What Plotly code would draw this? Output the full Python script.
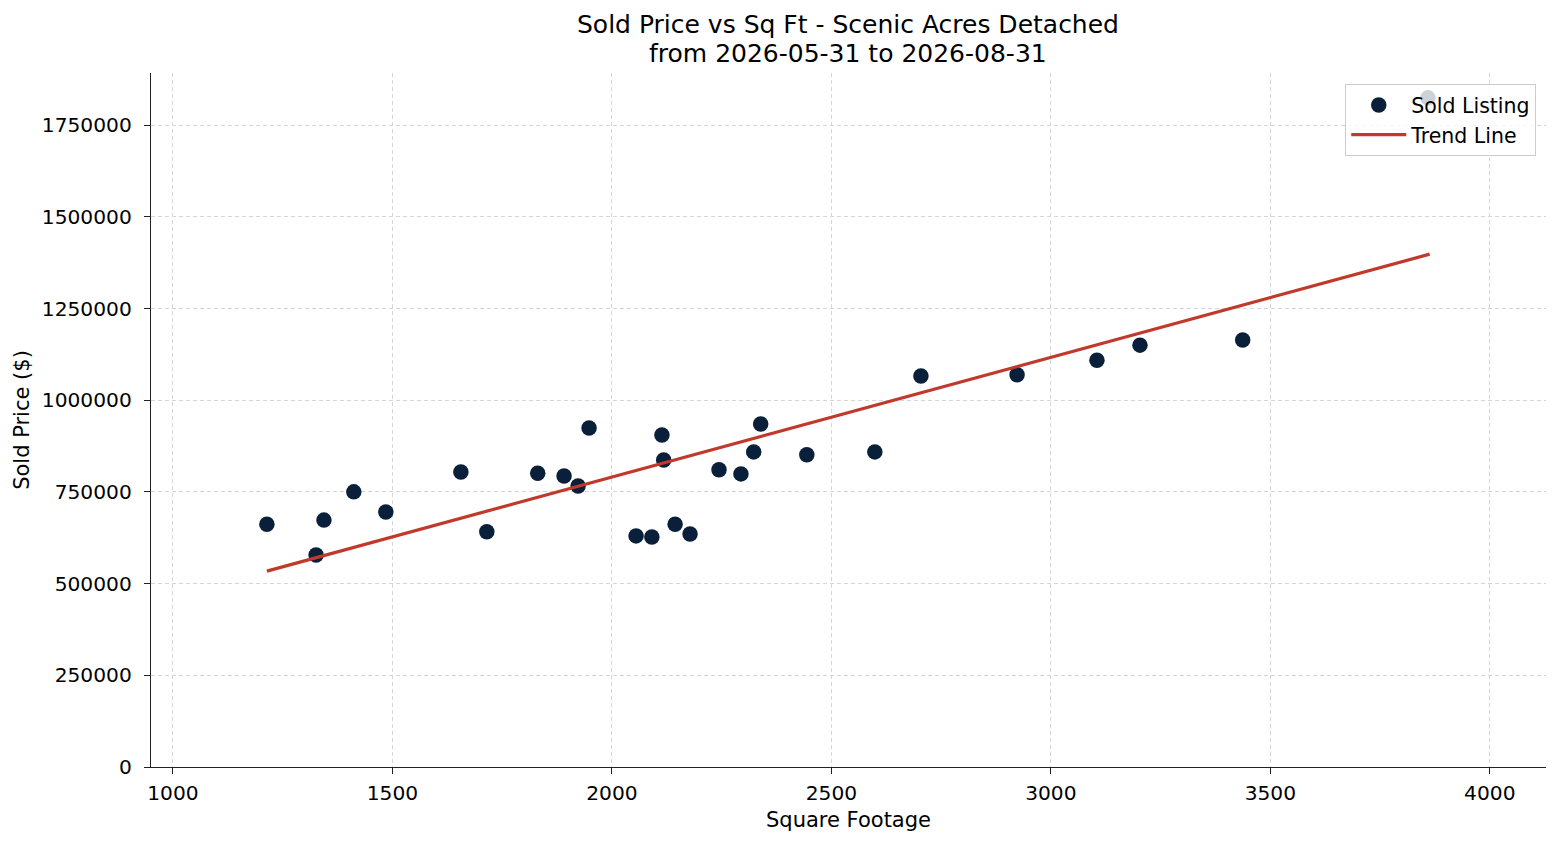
import plotly.graph_objects as go

# Data
sqft = [1214, 1326, 1344, 1412, 1485, 1656, 1715, 1831, 1891, 1923, 1948,
        2055, 2091, 2114, 2118, 2144, 2178, 2244, 2294, 2323, 2339, 2444,
        2599, 2704, 2923, 3105, 3203, 3437, 3859]
price = [662000, 578000, 673000, 750000, 695000, 804000, 641000, 801000,
         793000, 766000, 924000, 630000, 627000, 905000, 837000, 662000,
         635000, 810000, 799000, 859000, 935000, 851000, 859000, 1066000,
         1069000, 1109000, 1150000, 1164000, 1824000]
trend_x = [1214, 3863]
trend_y = [534000, 1398000]

x_ticks = [1000, 1500, 2000, 2500, 3000, 3500, 4000]
y_ticks = [0, 250000, 500000, 750000, 1000000, 1250000, 1500000, 1750000]

title_lines = ["Sold Price vs Sq Ft - Scenic Acres Detached",
               "from 2026-05-31 to 2026-08-31"]

FONT = "DejaVu Sans"
fig = go.Figure()
fig.add_trace(go.Scatter(
    x=sqft, y=price, mode="markers", name="Sold Listing",
    marker=dict(color="#0a1f3a", size=15.5, line=dict(width=0)),
))
fig.add_trace(go.Scatter(
    x=trend_x, y=trend_y, mode="lines", name="Trend Line",
    line=dict(color="#c0392b", width=3.2),
))

axis_common = dict(
    showline=True, linecolor="#222222", linewidth=1.4,
    ticks="outside", ticklen=6, tickwidth=1.3, tickcolor="#222222",
    showgrid=True, gridcolor="#d6d6d6", gridwidth=0.8, griddash="4px,3px",
    zeroline=False, mirror=False,
    tickfont=dict(family=FONT, size=20.2, color="#000000"),
)

fig.update_layout(
    width=1560, height=845,
    paper_bgcolor="white", plot_bgcolor="white",
    margin=dict(l=151, r=14, t=73, b=78),
    font=dict(family=FONT, color="#000000"),
    xaxis=dict(
        range=[950, 4128], tickvals=x_ticks,
        ticktext=[str(v) for v in x_ticks], ticklabelstandoff=2,
        title=dict(text="Square Footage", font=dict(family=FONT, size=21), standoff=7),
        **axis_common,
    ),
    yaxis=dict(
        range=[0, 1891800], tickvals=y_ticks,
        ticktext=[str(v) for v in y_ticks], ticklabelstandoff=8,
        title=dict(text="Sold Price ($)", font=dict(family=FONT, size=21), standoff=6),
        **axis_common,
    ),
    legend=dict(
        x=0.993, y=0.984, xanchor="right", yanchor="top",
        bgcolor="rgba(255,255,255,0.8)", bordercolor="#cccccc", borderwidth=1,
        font=dict(family=FONT, size=20.5, color="#000000"),
        itemsizing="trace", itemwidth=55,
    ),
    showlegend=True,
)

title_y = [1.0692, 1.0288]
for txt, yy in zip(title_lines, title_y):
    fig.add_annotation(
        text=txt, xref="paper", yref="paper", x=0.4996, y=yy,
        xanchor="center", yanchor="middle", showarrow=False,
        font=dict(family=FONT, size=25, color="#000000"),
    )

fig.write_html(
    "out.html",
    config={"displayModeBar": False},
    post_script="document.body.style.margin='0px';document.body.style.overflow='hidden';",
)
